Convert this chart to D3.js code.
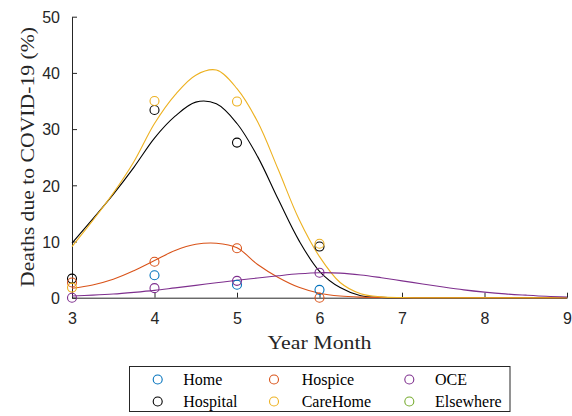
<!DOCTYPE html>
<html>
<head>
<meta charset="utf-8">
<script src="https://cdn.jsdelivr.net/npm/d3@7"></script>
<style>
html, body { margin: 0; padding: 0; background: #fff; }
svg { display: block; }
</style>
</head>
<body>
<svg id="chart" width="572" height="416"></svg>
<script>
// ---- data ----
const months = [3, 4, 5, 6];
const homePts      = [null, 4.0, 2.3, 1.4];
const hospitalPts  = [3.4, 33.4, 27.6, 9.1];
const hospicePts   = [2.7, 6.4, 8.8, 0.0];
const careHomePts  = [1.8, 35.0, 34.9, 9.6];
const ocePts       = [0.0, 1.7, 3.0, 4.45];
const elsewherePts = [null, null, null, null];

const fitX = [3, 3.25, 3.5, 3.75, 4, 4.25, 4.5, 4.75, 5, 5.25, 5.5, 5.75, 6,
              6.25, 6.5, 6.75, 7, 7.25, 7.5, 7.75, 8, 8.25, 8.5, 8.75, 9];
const hospitalFit = [9.7, 14.0, 18.4, 23.2, 28.4, 32.3, 34.8, 34.5, 31.0, 25.1, 17.5, 10.2, 4.7,
                     1.8, 0.35, 0.05, 0, 0, 0, 0, 0, 0, 0, 0, 0];
const hospiceFit  = [1.67, 2.26, 3.27, 4.8, 6.6, 8.4, 9.5, 9.7, 8.9, 5.9, 3.6, 1.85, 0.8,
                     0.3, 0.1, 0.03, 0, 0, 0, 0, 0, 0, 0, 0, 0];
const careHomeFit = [9.1, 13.7, 18.6, 24.2, 31.0, 36.1, 39.6, 40.5, 37.2, 31.3, 22.8, 14.0, 7.3,
                     2.7, 0.7, 0.15, 0.03, 0, 0, 0, 0, 0, 0, 0, 0];
const oceFit      = [0.3, 0.45, 0.65, 0.95, 1.3, 1.75, 2.2, 2.65, 3.1, 3.5, 3.9, 4.25, 4.45,
                     4.38, 4.05, 3.55, 3.0, 2.45, 1.9, 1.4, 1.0, 0.68, 0.45, 0.25, 0.12];

const xTicks = [3, 4, 5, 6, 7, 8, 9];
const yTicks = [0, 10, 20, 30, 40, 50];
const xLabel = "Year Month";
const yLabel = "Deaths due to COVID-19 (%)";

const series = [
  { name: "Home",      color: "#0072BD", pts: homePts,      fit: null },
  { name: "Hospital",  color: "#000000", pts: hospitalPts,  fit: hospitalFit },
  { name: "Hospice",   color: "#D95319", pts: hospicePts,   fit: hospiceFit },
  { name: "CareHome",  color: "#EDB120", pts: careHomePts,  fit: careHomeFit },
  { name: "OCE",       color: "#7E2F8E", pts: ocePts,       fit: oceFit },
  { name: "Elsewhere", color: "#77AC30", pts: elsewherePts, fit: null }
];
// legend order (row-wise, 3 columns)
const legendOrder = ["Home", "Hospice", "OCE", "Hospital", "CareHome", "Elsewhere"];

// ---- layout ----
const svg = d3.select("#chart");
const axisColor = "#262626";
const x = d3.scaleLinear().domain([3, 9]).range([72, 567]);
const y = d3.scaleLinear().domain([0, 50]).range([297.7, 16.7]);

// axes
const xAxis = d3.axisBottom(x).tickValues(xTicks).tickFormat(d3.format("d"))
  .tickSizeInner(-5).tickSizeOuter(0).tickPadding(15);
const yAxis = d3.axisLeft(y).tickValues(yTicks).tickFormat(d3.format("d"))
  .tickSizeInner(-5).tickSizeOuter(0).tickPadding(12);

const gx = svg.append("g").attr("transform", `translate(0,${y(0)})`).call(xAxis);
const gy = svg.append("g").attr("transform", `translate(${x(3)},0)`).call(yAxis);
[gx, gy].forEach(g => {
  g.select(".domain").attr("stroke", axisColor).attr("stroke-width", 1);
  g.selectAll(".tick line").attr("stroke", axisColor).attr("stroke-width", 1);
  g.selectAll(".tick text").attr("fill", axisColor)
    .style("font-family", "'Liberation Sans', Arial, sans-serif").style("font-size", "16px");
});
gy.selectAll(".tick text").attr("dy", "0.36em");

// axis labels
svg.append("text")
  .attr("x", x(6)).attr("y", 349)
  .attr("text-anchor", "middle")
  .attr("textLength", 104).attr("lengthAdjust", "spacingAndGlyphs")
  .style("font-family", "'Liberation Serif', 'Times New Roman', serif").style("font-size", "18px")
  .attr("fill", axisColor).text(xLabel);

svg.append("text")
  .attr("transform", "translate(33.5,157) rotate(-90)")
  .attr("text-anchor", "middle")
  .attr("textLength", 260).attr("lengthAdjust", "spacingAndGlyphs")
  .style("font-family", "'Liberation Serif', 'Times New Roman', serif").style("font-size", "18px")
  .attr("fill", axisColor).text(yLabel);

// fitted curves
const line = d3.line()
  .x((d, i) => x(fitX[i]))
  .y(d => y(Math.max(0, d)))
  .curve(d3.curveCatmullRom.alpha(0.5));

const plot = svg.append("g");
series.forEach(s => {
  if (s.fit) {
    plot.append("path").datum(s.fit)
      .attr("d", line)
      .attr("fill", "none")
      .attr("stroke", s.color)
      .attr("stroke-width", 1.1);
  }
});
// data points
series.forEach(s => {
  plot.selectAll(null)
    .data(months.map((m, i) => ({ m, v: s.pts[i] })).filter(d => d.v !== null))
    .join("circle")
    .attr("cx", d => x(d.m))
    .attr("cy", d => y(d.v))
    .attr("r", 4.5)
    .attr("fill", "none")
    .attr("stroke", s.color)
    .attr("stroke-width", 1.1);
});

// legend
const lg = svg.append("g");
lg.append("rect")
  .attr("x", 129.5).attr("y", 366.5).attr("width", 380.5).attr("height", 45)
  .attr("fill", "#fff").attr("stroke", axisColor).attr("stroke-width", 1);
const colMarkX = [157.7, 274, 409.3];
const colTextX = [183.3, 301.7, 435];
const rowY = [379.5, 401.5];
legendOrder.forEach((name, k) => {
  const s = series.find(d => d.name === name);
  const c = k % 3, r = Math.floor(k / 3);
  lg.append("circle")
    .attr("cx", colMarkX[c]).attr("cy", rowY[r]).attr("r", 4.5)
    .attr("fill", "none").attr("stroke", s.color).attr("stroke-width", 1.1);
  lg.append("text")
    .attr("x", colTextX[c]).attr("y", rowY[r] + 5)
    .style("font-family", "'Liberation Serif', 'Times New Roman', serif").style("font-size", "16px")
    .attr("fill", "#000").text(s.name);
});
</script>
</body>
</html>
